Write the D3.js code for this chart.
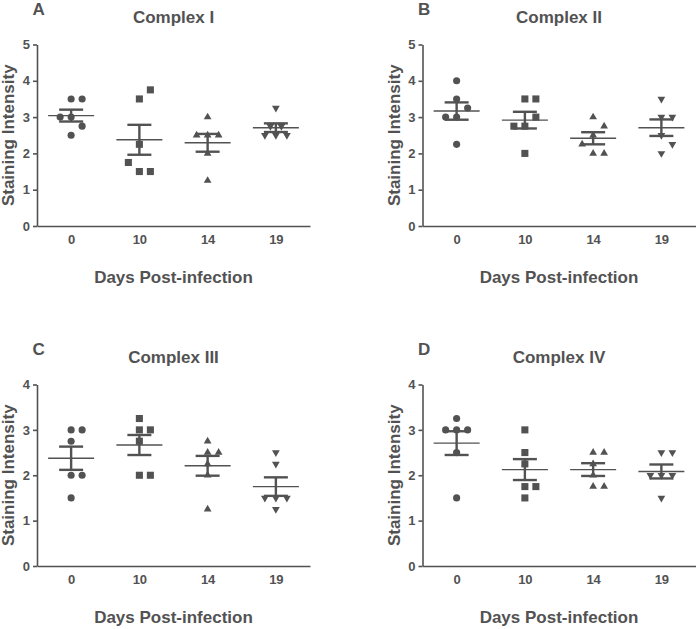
<!DOCTYPE html>
<html><head><meta charset="utf-8">
<script src="https://cdn.jsdelivr.net/npm/d3@7/dist/d3.min.js"></script>
<style>body{margin:0;background:#fff}svg{display:block}</style>
</head><body>
<svg id="chart" width="697" height="629"></svg>
<script>
// ---- data ----
const days = ["0", "10", "14", "19"];
const panelLetters = ["A", "B", "C", "D"];
const panelTitles = ["Complex I", "Complex II", "Complex III", "Complex IV"];
const yTicksTop = [0, 1, 2, 3, 4, 5];
const yTicksBottom = [0, 1, 2, 3, 4];
const xTitle = "Days Post-infection";
const yTitle = "Staining Intensity";
// staining scores per animal, one array per day (0, 10, 14, 19)
const complexI = [
  [3.5, 3.5, 3.0, 2.75, 3.0, 2.5],
  [3.5, 3.75, 2.25, 1.5, 1.5, 1.75],
  [3.0, 2.5, 2.5, 2.5, 2.0, 1.25],
  [3.25, 2.5, 2.5, 2.5, 2.75, 2.75]
];
const complexII = [
  [4.0, 3.5, 3.0, 3.25, 3.0, 2.25],
  [3.5, 3.5, 2.75, 3.0, 2.75, 2.0],
  [3.0, 2.5, 2.0, 2.0, 2.25, 2.75],
  [3.5, 3.0, 3.0, 2.5, 2.0, 2.25]
];
const complexIII = [
  [3.0, 3.0, 2.75, 2.0, 2.0, 1.5],
  [3.25, 3.0, 3.0, 2.75, 2.0, 2.0],
  [2.75, 2.5, 2.5, 2.25, 2.0, 1.25],
  [2.5, 2.25, 1.5, 1.5, 1.5, 1.25]
];
const complexIV = [
  [3.25, 3.0, 3.0, 3.0, 2.5, 1.5],
  [3.0, 2.5, 2.25, 1.75, 1.75, 1.5],
  [2.5, 2.5, 2.25, 2.0, 1.75, 1.75],
  [2.5, 2.5, 2.0, 2.0, 2.0, 1.5]
];
const panelData = [complexI, complexII, complexIII, complexIV];
const panelTicks = [yTicksTop, yTicksTop, yTicksBottom, yTicksBottom];

// ---- drawing ----
const INK = "#525252";
const FONT = "'Liberation Sans', Arial, Helvetica, sans-serif";
const svg = d3.select("#chart");
const offsets = [[0, 0], [385.5, 0], [0, 340], [385.5, 340]];
const plotL = 37, plotR = 310, plotT = 44.5, plotB = 226;
const SLOT = 11, COLLIDE = 10;

const symbols = [
  d3.symbol().type(d3.symbolCircle).size(40),
  d3.symbol().type(d3.symbolSquare).size(50),
  d3.symbol().type(d3.symbolTriangle).size(26),
  d3.symbol().type(d3.symbolTriangle).size(26)
];
const symbolRot = [0, 0, 0, 180];

function swarm(values, y) {
  const cands = [0, 1, -1, 0.5, -0.5, 2, -2];
  const placed = [];
  return values.map(v => {
    const py = y(v);
    for (const c of cands) {
      if (!placed.some(p => p.slot === c && Math.abs(p.py - py) < COLLIDE)) {
        placed.push({slot: c, py});
        return {v, slot: c};
      }
    }
    return {v, slot: 0};
  });
}

panelData.forEach((groups, pi) => {
  const [ox, oy] = offsets[pi];
  const g = svg.append("g").attr("transform", `translate(${ox},${oy})`);
  const ticks = panelTicks[pi];
  const y = d3.scaleLinear().domain([0, d3.max(ticks)]).range([plotB, plotT]);
  const x = d3.scalePoint().domain(days).range([plotL, plotR]).padding(0.5);

  // axes
  const ya = g.append("g").attr("transform", `translate(${plotL},0)`)
    .call(d3.axisLeft(y).tickValues(ticks).tickFormat(d3.format("d")).tickSize(4).tickPadding(3).tickSizeOuter(0));
  const xa = g.append("g").attr("transform", `translate(0,${plotB})`)
    .call(d3.axisBottom(x).tickSize(0).tickPadding(9).tickSizeOuter(0));
  [ya, xa].forEach(a => {
    a.select(".domain").attr("stroke", INK).attr("stroke-width", 1.6);
    a.selectAll(".tick line").attr("stroke", INK).attr("stroke-width", 1.6);
    a.selectAll(".tick text").attr("fill", INK).style("font-family", FONT)
      .style("font-size", "13px").style("font-weight", "bold");
  });

  // texts
  g.append("text").attr("x", 32.5).attr("y", 15).text(panelLetters[pi])
    .attr("fill", INK).style("font-family", FONT).style("font-size", "17px").style("font-weight", "bold");
  g.append("text").attr("x", (plotL + plotR) / 2).attr("y", 22.5).attr("text-anchor", "middle")
    .text(panelTitles[pi]).attr("fill", INK).style("font-family", FONT).style("font-size", "17px").style("font-weight", "bold");
  g.append("text").attr("x", (plotL + plotR) / 2).attr("y", 282.5).attr("text-anchor", "middle")
    .text(xTitle).attr("fill", INK).style("font-family", FONT).style("font-size", "17px").style("font-weight", "bold");
  g.append("text").attr("transform", `translate(14,${(plotT + plotB) / 2}) rotate(-90)`).attr("text-anchor", "middle")
    .text(yTitle).attr("fill", INK).style("font-family", FONT).style("font-size", "17px").style("font-weight", "bold");

  // groups
  groups.forEach((vals, di) => {
    const cx = x(days[di]);
    const pts = swarm(vals, y);
    g.append("g").selectAll("path").data(pts).join("path")
      .attr("d", symbols[di])
      .attr("transform", d => `translate(${cx + d.slot * SLOT},${y(d.v)}) rotate(${symbolRot[di]})`)
      .attr("fill", INK);
    const m = d3.mean(vals);
    const sem = d3.deviation(vals) / Math.sqrt(vals.length);
    const eg = g.append("g").attr("stroke", INK);
    eg.append("line").attr("x1", cx - 23).attr("x2", cx + 23).attr("y1", y(m)).attr("y2", y(m)).attr("stroke-width", 1.4);
    eg.append("line").attr("x1", cx).attr("x2", cx).attr("y1", y(m - sem)).attr("y2", y(m + sem)).attr("stroke-width", 2.4);
    [m - sem, m + sem].forEach(v => {
      eg.append("line").attr("x1", cx - 12).attr("x2", cx + 12).attr("y1", y(v)).attr("y2", y(v)).attr("stroke-width", 2.4);
    });
  });
});
</script>
</body></html>
